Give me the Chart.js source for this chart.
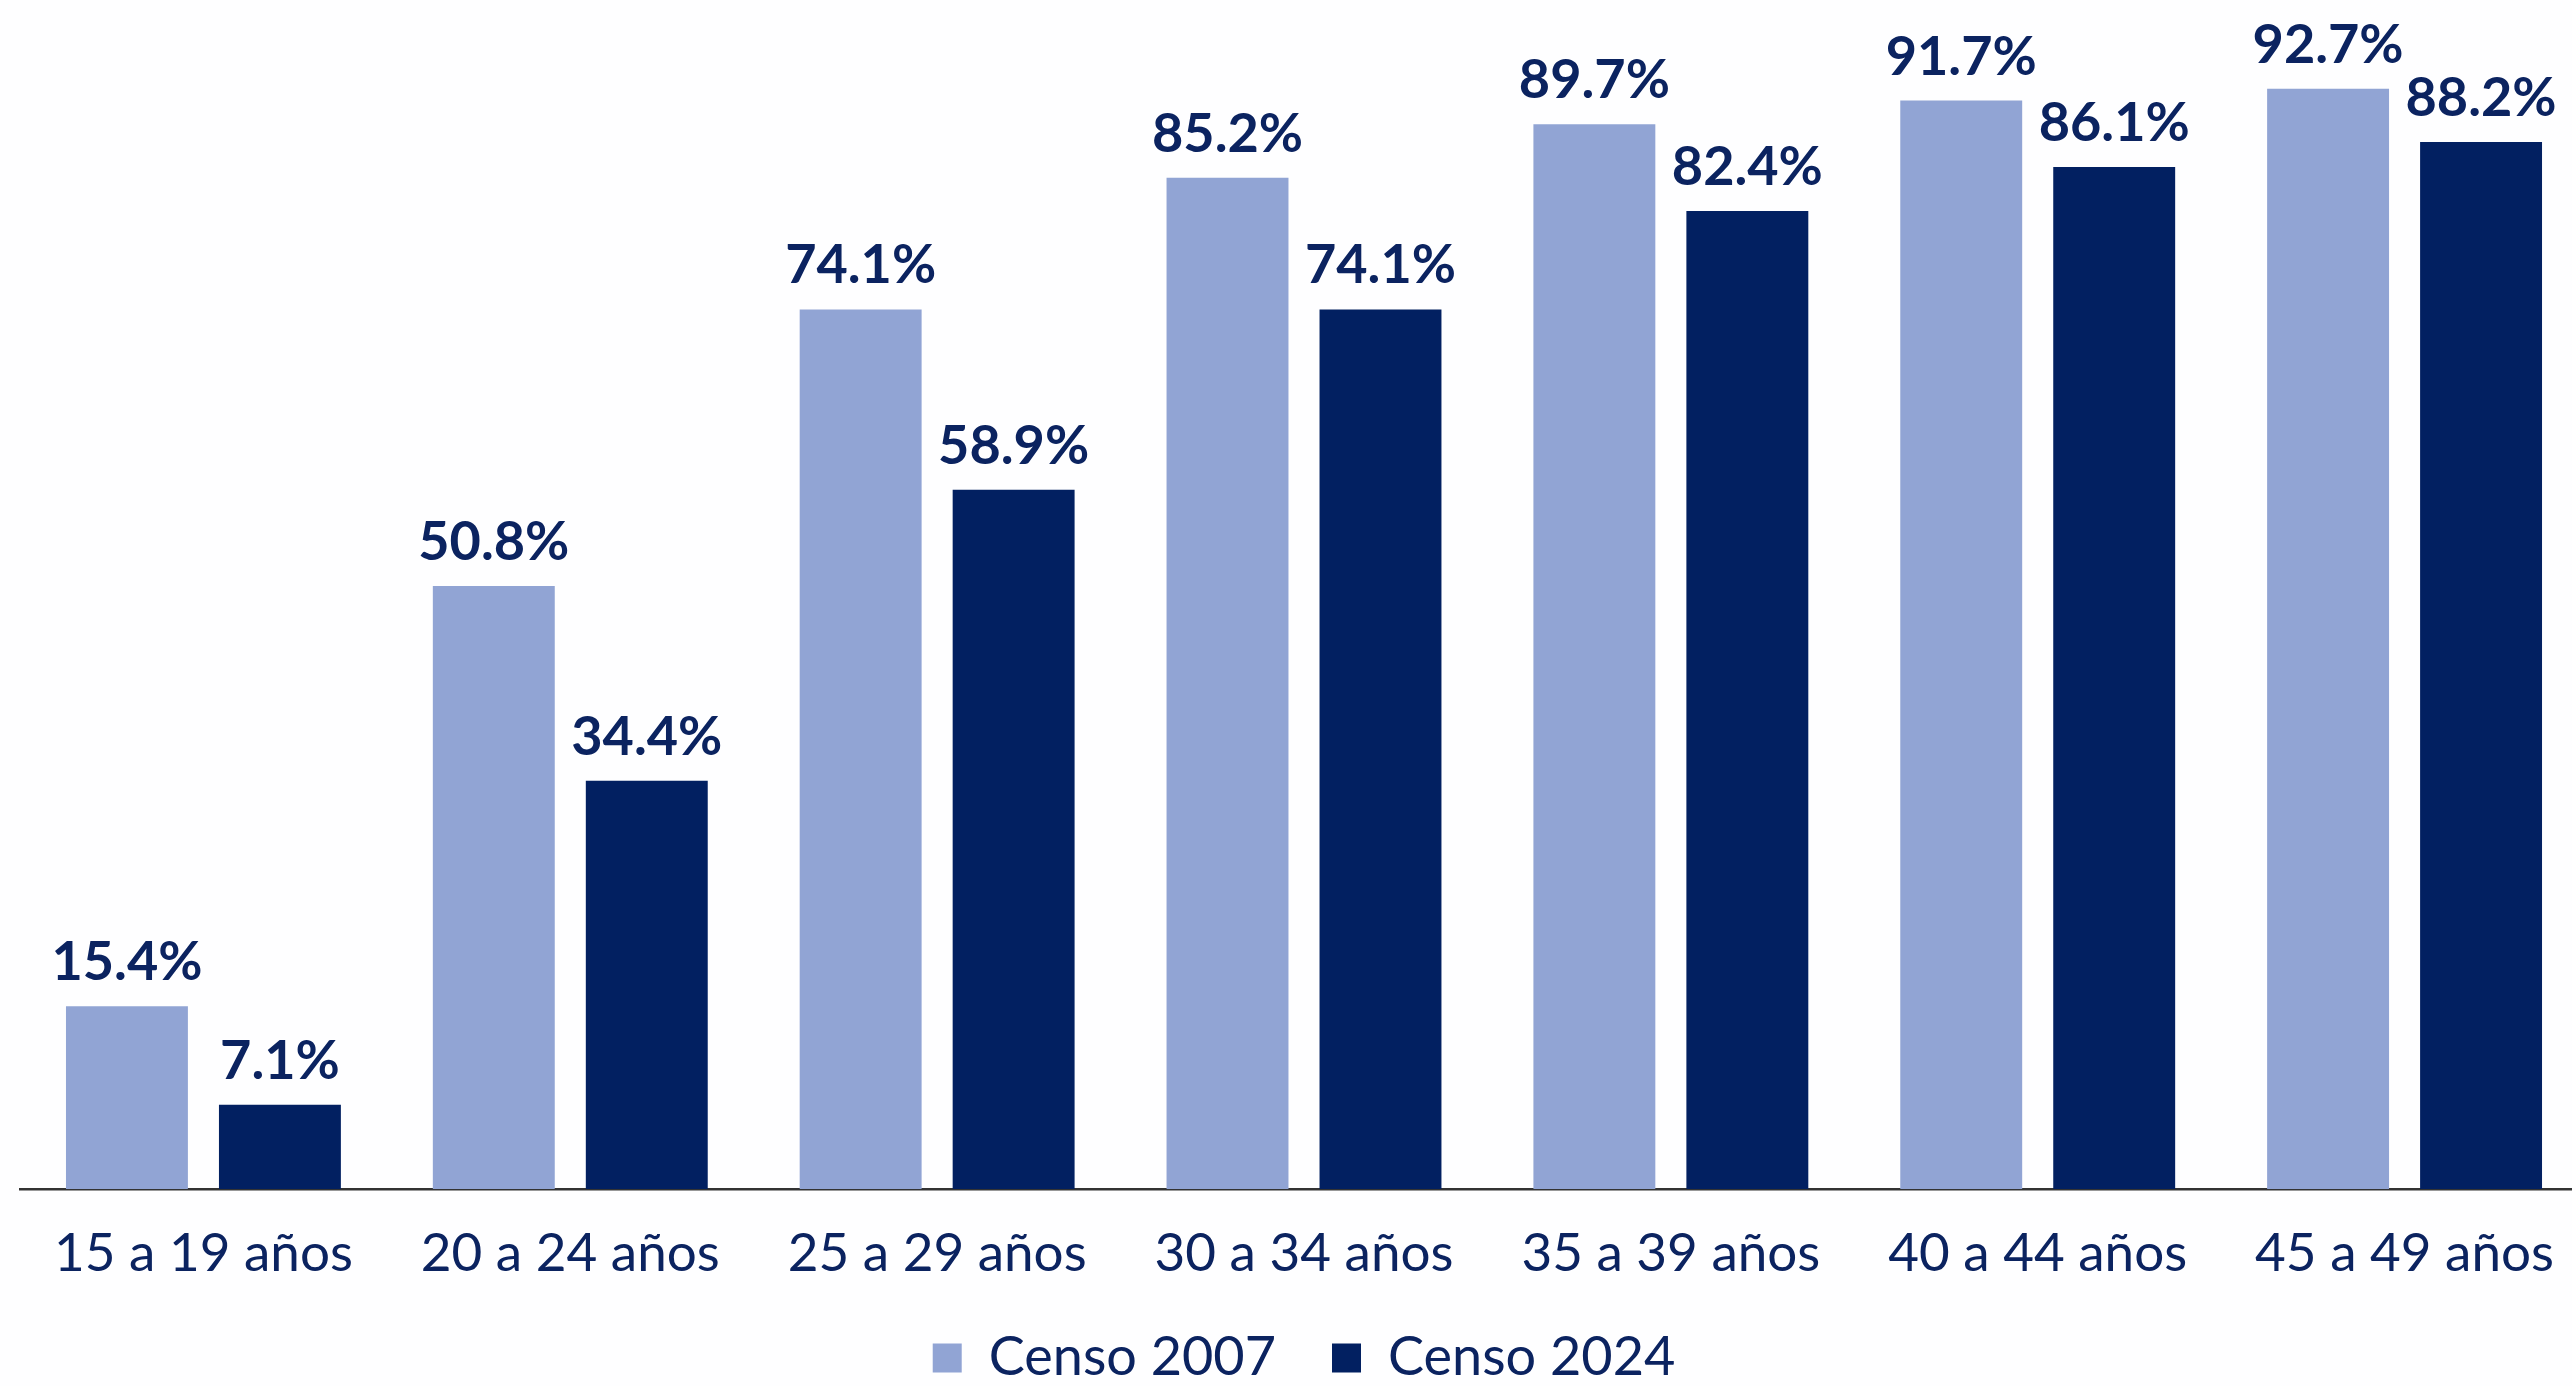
<!DOCTYPE html>
<html>
<head>
<meta charset="utf-8">
<script src="https://cdn.jsdelivr.net/npm/chart.js@4.4.0/dist/chart.umd.min.js"></script>
<style>
  html, body { margin:0; padding:0; background:#fefeff; overflow:hidden; width:2572px; height:1386px; }
  #wrap { position:absolute; left:0; top:0; width:2592px; height:1395px; }
</style>
</head>
<body>
<div id="wrap"><canvas id="c"></canvas></div>
<script>
const categories = ['15 a 19 años', '20 a 24 años', '25 a 29 años', '30 a 34 años', '35 a 39 años', '40 a 44 años', '45 a 49 años'];
const censo2007 = [15.4, 50.8, 74.1, 85.2, 89.7, 91.7, 92.7];
const censo2024 = [7.1, 34.4, 58.9, 74.1, 82.4, 86.1, 88.2];
const seriesNames = ['Censo 2007', 'Censo 2024'];
const seriesColors = ['#91A4D4', '#022061'];

const textColor = '#0B2360';

const valueLabels = {
  id: 'valueLabels',
  afterDatasetsDraw(chart) {
    const ctx = chart.ctx;
    ctx.save();
    ctx.font = 'bold 54px Lato';
    ctx.fillStyle = textColor;
    ctx.textAlign = 'center';
    ctx.textBaseline = 'alphabetic';
    chart.data.datasets.forEach((ds, i) => {
      const meta = chart.getDatasetMeta(i);
      meta.data.forEach((bar, j) => {
        ctx.fillText(ds.data[j].toFixed(1) + '%', bar.x, bar.y - 26);
      });
    });
    ctx.restore();
  }
};

function draw() {
  new Chart(document.getElementById('c'), {
    type: 'bar',
    data: {
      labels: categories,
      datasets: [
        { label: seriesNames[0], data: censo2007, backgroundColor: seriesColors[0], borderWidth: 0,
          categoryPercentage: 0.834, barPercentage: 0.797 },
        { label: seriesNames[1], data: censo2024, backgroundColor: seriesColors[1], borderWidth: 0,
          categoryPercentage: 0.834, barPercentage: 0.797 }
      ]
    },
    options: {
      responsive: true,
      maintainAspectRatio: false,
      devicePixelRatio: 1,
      animation: false,
      layout: { padding: { left: 20, right: 4, top: 2, bottom: 0 } },
      scales: {
        x: {
          type: 'category',
          offset: true,
          grid: { display: false, drawTicks: false },
          border: { display: true, color: '#333333', width: 2.5 },
          ticks: { font: { family: 'Lato', size: 53, weight: '400', lineHeight: 1.2 }, color: textColor, padding: 33, maxRotation: 0, autoSkip: false },
          afterFit(scale) { scale.height = 86; }
        },
        y: { display: false, min: 0, max: 100 }
      },
      plugins: {
        legend: {
          position: 'bottom',
          labels: {
            boxWidth: 29, boxHeight: 29, padding: 56,
            font: { family: 'Lato', size: 54, weight: '400' }, color: textColor
          }
        },
        tooltip: { enabled: false }
      }
    },
    plugins: [valueLabels]
  });
}
if (document.fonts && document.fonts.load) {
  Promise.all([document.fonts.load('53px Lato'), document.fonts.load('bold 54px Lato')]).then(draw, draw);
} else { draw(); }
</script>
</body>
</html>
